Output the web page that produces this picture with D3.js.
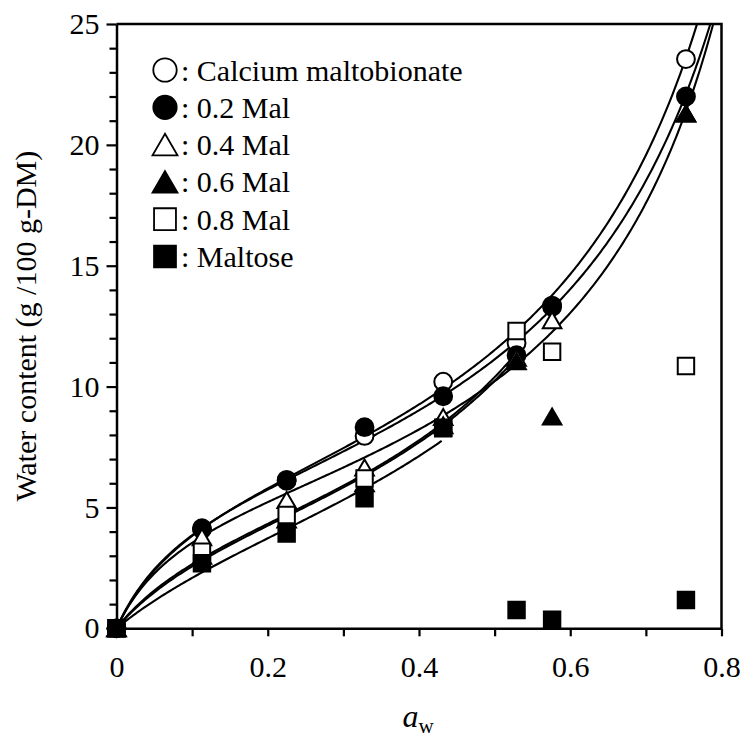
<!DOCTYPE html>
<html>
<head>
<meta charset="utf-8">
<script src="https://cdn.jsdelivr.net/npm/d3@7"></script>
<style>
  html, body { margin: 0; padding: 0; background: #fff; }
  svg { display: block; font-family: "Liberation Serif", "Times New Roman", serif; }
</style>
</head>
<body>
<svg id="chart" width="746" height="742"></svg>
<script>
// Water activity of each storage condition
const aw = [0, 0.113, 0.225, 0.328, 0.432, 0.529, 0.576, 0.753];

// Series names (legend order = drawing order)
const seriesNames = ["Calcium maltobionate", "0.2 Mal", "0.4 Mal", "0.6 Mal", "0.8 Mal", "Maltose"];

// Equilibrium water content (g / 100 g-DM) for each series
const caMaltobionate = [0, 4.1, 6.1, 7.96, 10.2, 11.8, 13.3, 23.55];
const mal02 = [0, 4.14, 6.14, 8.32, 9.6, 11.3, 13.35, 22.0];
const mal04 = [0, 3.77, 5.31, 6.65, 8.74, 11.2, 12.75, 21.3];
const mal06 = [0, 3.0, 4.5, 6.0, 8.4, 11.05, 8.76, 21.3];
const mal08 = [0, 3.17, 4.69, 6.2, 8.3, 12.3, 11.44, 10.85];
const maltose = [0, 2.69, 3.92, 5.38, 8.27, 0.76, 0.35, 1.17];

// GAB sorption isotherm parameters (Wm, C, K) and fitted aw range per series
const gabWm = [6.49, 6.33, 5.6, 5.05, 4.95, 5.4];
const gabC = [10.5, 11.5, 12, 6.5, 7, 4.5];
const gabK = [0.975, 0.96, 0.99, 1.12, 1.14, 1.05];
const fitMaxAw = [0.8, 0.8, 0.8, 0.529, 0.529, 0.432];

// Marker styles
const markerShapes = ["circle", "circle", "triangle", "triangle", "square", "square"];
const markerFilled = [false, true, false, true, false, true];

// Axis ticks
const xTickValues = [0, 0.1, 0.2, 0.3, 0.4, 0.5, 0.6, 0.7, 0.8];
const xTickLabels = ["0", "", "0.2", "", "0.4", "", "0.6", "", "0.8"];
const yTickValues = d3.range(0, 26, 1);
const yLabelValues = [0, 5, 10, 15, 20, 25];

const seriesValues = [caMaltobionate, mal02, mal04, mal06, mal08, maltose];

const fontStack = '"Liberation Serif", "Times New Roman", serif';
const svg = d3.select("#chart");
const plotLeft = 116.5, plotRight = 721.5, plotTop = 24, plotBottom = 628.3;

const x = d3.scaleLinear().domain([0, 0.8]).range([plotLeft, plotRight]);
const y = d3.scaleLinear().domain([0, 25]).range([plotBottom, plotTop]);

svg.append("defs").append("clipPath").attr("id", "plotClip")
  .append("rect").attr("x", plotLeft).attr("y", plotTop)
  .attr("width", plotRight - plotLeft).attr("height", plotBottom - plotTop);

// GAB model: W = Wm*C*K*aw / ((1 - K aw)(1 - K aw + C K aw))
function gab(a, i) {
  const ka = gabK[i] * a;
  return gabWm[i] * gabC[i] * ka / ((1 - ka) * (1 - ka + gabC[i] * ka));
}

// Fitted isotherm curves
const line = d3.line().x(d => x(d[0])).y(d => y(Math.min(d[1], 40)));
const curveGroup = svg.append("g").attr("clip-path", "url(#plotClip)");
seriesNames.forEach((name, i) => {
  const pts = d3.range(0, fitMaxAw[i] + 1e-9, 0.0025).map(a => [a, gab(a, i)]);
  curveGroup.append("path")
    .attr("d", line(pts))
    .attr("fill", "none")
    .attr("stroke", "#000")
    .attr("stroke-width", 2.1);
});

// Axes
const xAxis = d3.axisBottom(x).tickValues(xTickValues)
  .tickFormat((d, i) => xTickLabels[i]).tickSize(8).tickSizeOuter(0).tickPadding(19);
const gx = svg.append("g").attr("transform", `translate(0,${plotBottom})`).call(xAxis);

const yAxis = d3.axisLeft(y).tickValues(yTickValues)
  .tickFormat(d => yLabelValues.includes(d) ? String(d) : "").tickSize(7).tickSizeOuter(0).tickPadding(10);
const gy = svg.append("g").attr("transform", `translate(${plotLeft},0)`).call(yAxis);
gy.selectAll(".tick line").attr("x2", d => yLabelValues.includes(d) ? -10 : -7);
gy.selectAll(".tick text").attr("x", -17);

[gx, gy].forEach(g => {
  g.select(".domain").attr("stroke", "#000").attr("stroke-width", 2.5);
  g.selectAll(".tick line").attr("stroke", "#000").attr("stroke-width", 2.2);
  g.selectAll(".tick text").attr("fill", "#000").style("font-size", "30px")
    .style("font-family", fontStack);
});

// Frame (top and right edges)
svg.append("path")
  .attr("d", `M${plotLeft},${plotTop}H${plotRight}V${plotBottom}`)
  .attr("fill", "none").attr("stroke", "#000").attr("stroke-width", 2.5);

// Data markers
function symbolFor(shape, size) {
  const t = shape === "circle" ? d3.symbolCircle : shape === "triangle" ? d3.symbolTriangle : d3.symbolSquare;
  return d3.symbol().type(t).size(size)();
}
// Vertical shift that centres a triangle's bounding box (d3 centres its centroid)
function triShift(size) {
  return Math.sqrt(size / (3 * Math.sqrt(3))) / 2;
}
const markerSize = { circle: 250, triangle: 150, square: 270 };

seriesValues.forEach((vals, i) => {
  const shape = markerShapes[i];
  const dy = shape === "triangle" ? triShift(markerSize.triangle) : 0;
  svg.append("g").selectAll("path").data(vals).join("path")
    .attr("d", symbolFor(shape, markerSize[shape]))
    .attr("transform", (d, j) => `translate(${x(aw[j])},${y(d) + dy})`)
    .attr("fill", markerFilled[i] ? "#000" : "#fff")
    .attr("stroke", "#000")
    .attr("stroke-width", 2);
});

// Legend
const legendX = 165, legendY0 = 70, legendDy = 37.3;
const legendSize = { circle: 430, triangle: 270, square: 480 };
seriesNames.forEach((name, i) => {
  const shape = markerShapes[i];
  const cy = legendY0 + i * legendDy;
  const dy = shape === "triangle" ? triShift(legendSize.triangle) : 0;
  svg.append("path")
    .attr("d", symbolFor(shape, legendSize[shape]))
    .attr("transform", `translate(${legendX},${cy + dy})`)
    .attr("fill", markerFilled[i] ? "#000" : "#fff")
    .attr("stroke", "#000").attr("stroke-width", 1.8);
  svg.append("text")
    .attr("x", 181).attr("y", cy + 10.5)
    .style("font-size", "30px")
    .text(": " + name);
});

// Axis titles
svg.append("text")
  .attr("transform", `translate(36,${(plotTop + plotBottom) / 2}) rotate(-90)`)
  .attr("text-anchor", "middle")
  .style("font-size", "30px")
  .text("Water content (g /100 g-DM)");

const xt = svg.append("text")
  .attr("x", 418).attr("y", 727)
  .attr("text-anchor", "middle")
  .style("font-size", "32px");
xt.append("tspan").style("font-style", "italic").text("a");
xt.append("tspan").attr("dy", 6).style("font-size", "21px").text("w");
</script>
</body>
</html>
